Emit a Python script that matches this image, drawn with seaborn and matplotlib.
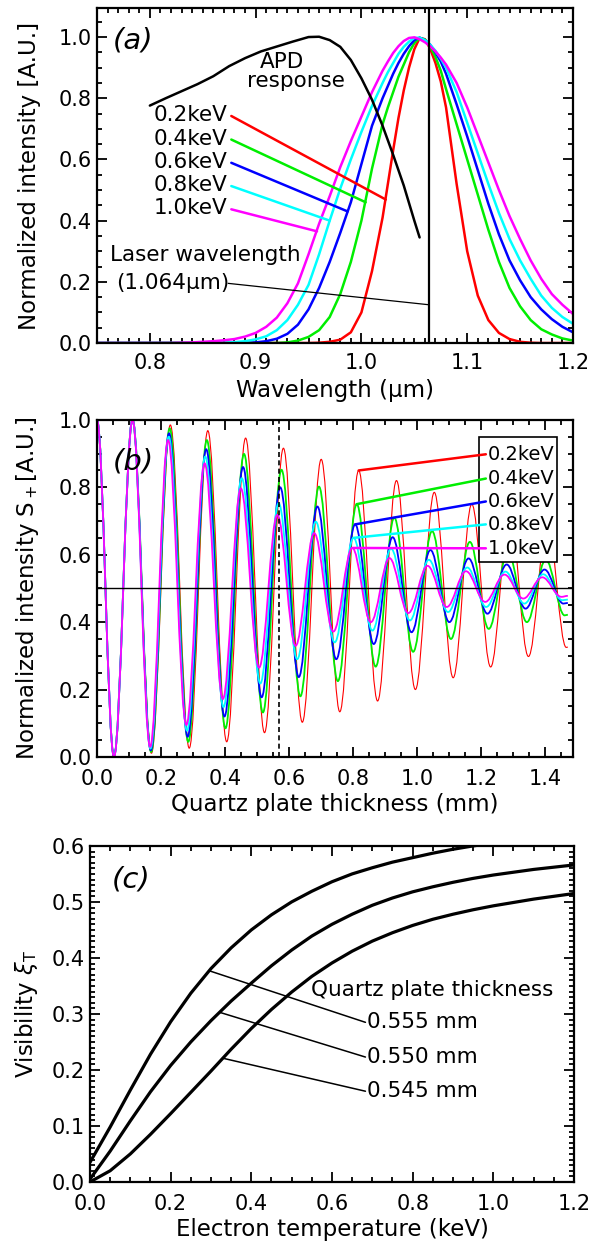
import matplotlib
matplotlib.use("Agg")
import matplotlib.pyplot as plt
import pandas as pd
import seaborn as sns
from matplotlib.path import Path
from matplotlib.patches import PathPatch, Rectangle
from matplotlib.ticker import MultipleLocator

# ---------------- (a) scattered spectra + APD response ----------------
energies = ["0.2keV", "0.4keV", "0.6keV", "0.8keV", "1.0keV"]
colors = ["#ff0000", "#00ee00", "#0000ff", "#00ffff", "#ff00ff"]

wl = [0.75, 0.76, 0.77, 0.78, 0.79, 0.80, 0.81, 0.82, 0.83, 0.84,
      0.85, 0.86, 0.87, 0.88, 0.89, 0.90, 0.91, 0.92, 0.93, 0.94,
      0.95, 0.96, 0.97, 0.98, 0.99, 1.00, 1.01, 1.02, 1.025, 1.03,
      1.035, 1.04, 1.045, 1.05, 1.055, 1.06, 1.065, 1.07, 1.075, 1.08,
      1.09, 1.10, 1.11, 1.12, 1.13, 1.14, 1.15, 1.16, 1.17, 1.18, 1.19, 1.20]

spec_02 = [0, 0, 0, 0, 0, 0, 0, 0, 0, 0,
           0, 0, 0, 0, 0, 0, 0, 0, 0, 0,
           0.0, 0.001, 0.004, 0.011, 0.035, 0.10, 0.235, 0.41, 0.52, 0.63,
           0.735, 0.825, 0.90, 0.96, 0.997, 0.993, 0.962, 0.915, 0.855, 0.77,
           0.52, 0.30, 0.155, 0.075, 0.033, 0.013, 0.004, 0.001, 0, 0, 0, 0]
spec_04 = [0, 0, 0, 0, 0, 0, 0, 0, 0, 0,
           0, 0, 0, 0, 0, 0, 0, 0, 0.002, 0.008,
           0.02, 0.042, 0.085, 0.16, 0.265, 0.40, 0.57, 0.715, 0.77, 0.82,
           0.87, 0.91, 0.95, 0.98, 0.997, 0.992, 0.97, 0.935, 0.89, 0.83,
           0.715, 0.60, 0.485, 0.37, 0.265, 0.18, 0.12, 0.075, 0.045, 0.028, 0.015, 0.008]
spec_06 = [0, 0, 0, 0, 0, 0, 0, 0, 0, 0,
           0, 0, 0, 0, 0, 0.002, 0.006, 0.014, 0.03, 0.06,
           0.11, 0.18, 0.265, 0.36, 0.46, 0.585, 0.71, 0.80, 0.84, 0.88,
           0.915, 0.945, 0.97, 0.99, 0.998, 0.99, 0.975, 0.95, 0.92, 0.88,
           0.78, 0.675, 0.565, 0.455, 0.355, 0.27, 0.205, 0.15, 0.11, 0.078, 0.053, 0.035]
spec_08 = [0, 0, 0, 0, 0, 0, 0, 0, 0, 0,
           0, 0, 0.001, 0.003, 0.006, 0.012, 0.022, 0.042, 0.075, 0.125,
           0.19, 0.29, 0.40, 0.505, 0.60, 0.69, 0.775, 0.85, 0.885, 0.915,
           0.945, 0.968, 0.985, 0.997, 0.998, 0.99, 0.975, 0.955, 0.93, 0.90,
           0.82, 0.72, 0.62, 0.52, 0.425, 0.34, 0.27, 0.21, 0.155, 0.115, 0.085, 0.063]
spec_10 = [0, 0, 0, 0, 0, 0, 0, 0, 0.001, 0.002,
           0.004, 0.006, 0.009, 0.013, 0.021, 0.033, 0.053, 0.083, 0.13, 0.195,
           0.29, 0.39, 0.48, 0.575, 0.66, 0.74, 0.82, 0.89, 0.92, 0.948,
           0.97, 0.987, 0.997, 0.999, 0.993, 0.983, 0.97, 0.953, 0.933, 0.91,
           0.85, 0.77, 0.68, 0.59, 0.50, 0.415, 0.34, 0.27, 0.21, 0.16, 0.125, 0.095]

apd_wl = [0.800, 0.815, 0.830, 0.845, 0.860, 0.875, 0.890, 0.905, 0.920, 0.935, 0.950,
          0.960, 0.970, 0.980, 0.990, 1.000, 1.010, 1.020, 1.030, 1.040, 1.050, 1.055]
apd_resp = [0.776, 0.800, 0.823, 0.846, 0.872, 0.905, 0.931, 0.953, 0.969, 0.985, 1.000,
            1.001, 0.990, 0.968, 0.925, 0.865, 0.795, 0.710, 0.615, 0.515, 0.400, 0.345]

laser_wl = 1.064
# where each label leader line touches its curve in (a)
lead_a_x = [1.023, 1.004, 0.987, 0.970, 0.958]
lead_a_y = [0.469, 0.460, 0.430, 0.400, 0.365]
label_a_y = [0.745, 0.668, 0.592, 0.516, 0.440]

peak_x = [
    [0.111, 0.229, 0.346, 0.464, 0.582, 0.700, 0.817, 0.935, 1.053, 1.170, 1.288, 1.406],
    [0.111, 0.227, 0.343, 0.459, 0.576, 0.693, 0.811, 0.928, 1.046, 1.164, 1.283, 1.401],
    [0.111, 0.225, 0.341, 0.456, 0.572, 0.688, 0.806, 0.923, 1.041, 1.160, 1.279, 1.397],
    [0.111, 0.224, 0.338, 0.452, 0.567, 0.683, 0.801, 0.918, 1.036, 1.156, 1.275, 1.393],
    [0.111, 0.222, 0.336, 0.449, 0.563, 0.678, 0.797, 0.913, 1.032, 1.152, 1.272, 1.390],
]
peak_y = [
    [0.998, 0.985, 0.968, 0.946, 0.916, 0.883, 0.850, 0.820, 0.785, 0.750, 0.720, 0.690],
    [1.000, 0.975, 0.940, 0.899, 0.852, 0.802, 0.750, 0.710, 0.670, 0.638, 0.610, 0.585],
    [1.000, 0.960, 0.913, 0.860, 0.800, 0.743, 0.690, 0.652, 0.614, 0.589, 0.571, 0.556],
    [1.000, 0.950, 0.891, 0.827, 0.753, 0.698, 0.650, 0.618, 0.585, 0.562, 0.550, 0.542],
    [1.000, 0.940, 0.871, 0.797, 0.718, 0.664, 0.620, 0.590, 0.567, 0.551, 0.541, 0.533],
]
trough_x = [
    [0.053, 0.170, 0.288, 0.405, 0.523, 0.641, 0.758, 0.876, 0.994, 1.112, 1.229, 1.347, 1.465],
    [0.053, 0.169, 0.285, 0.401, 0.518, 0.635, 0.752, 0.870, 0.987, 1.105, 1.223, 1.342, 1.460],
    [0.053, 0.168, 0.283, 0.398, 0.514, 0.630, 0.747, 0.864, 0.982, 1.100, 1.219, 1.338, 1.456],
    [0.053, 0.167, 0.281, 0.395, 0.510, 0.625, 0.742, 0.860, 0.977, 1.096, 1.215, 1.334, 1.453],
    [0.053, 0.166, 0.279, 0.393, 0.506, 0.620, 0.738, 0.855, 0.972, 1.092, 1.212, 1.331, 1.450],
]
trough_y = [
    [0.005, 0.011, 0.026, 0.045, 0.072, 0.103, 0.134, 0.166, 0.200, 0.235, 0.267, 0.298, 0.325],
    [0.002, 0.015, 0.045, 0.085, 0.132, 0.180, 0.225, 0.268, 0.312, 0.350, 0.380, 0.400, 0.420],
    [0.002, 0.020, 0.060, 0.120, 0.177, 0.237, 0.290, 0.335, 0.370, 0.400, 0.425, 0.440, 0.455],
    [0.002, 0.025, 0.078, 0.148, 0.218, 0.290, 0.340, 0.375, 0.405, 0.430, 0.445, 0.455, 0.465],
    [0.000, 0.030, 0.095, 0.172, 0.265, 0.330, 0.372, 0.400, 0.427, 0.445, 0.460, 0.470, 0.475],
]
end_y = [0.326, 0.422, 0.457, 0.467, 0.478]
thick_start, thick_end = 0.0, 1.47
marked_thickness = 0.567
legend_y = [0.898, 0.826, 0.758, 0.690, 0.619]

# ---------------- (c) visibility vs electron temperature ----------------
te_555 = [0.0, 0.05, 0.1, 0.15, 0.2, 0.25, 0.3, 0.35, 0.4, 0.45, 0.5, 0.55, 0.6,
          0.65, 0.7, 0.75, 0.8, 0.85, 0.9, 0.95, 1.0]
vis_555 = [0.035, 0.098, 0.164, 0.228, 0.286, 0.337, 0.381, 0.418, 0.450, 0.477, 0.500,
           0.519, 0.536, 0.550, 0.561, 0.571, 0.579, 0.587, 0.594, 0.600, 0.605]
te = [0.0, 0.05, 0.1, 0.15, 0.2, 0.25, 0.3, 0.35, 0.4, 0.45, 0.5, 0.55, 0.6,
      0.65, 0.7, 0.75, 0.8, 0.85, 0.9, 0.95, 1.0, 1.05, 1.1, 1.15, 1.2]
vis_550 = [0.005, 0.055, 0.109, 0.161, 0.208, 0.250, 0.288, 0.323, 0.355, 0.386, 0.414,
           0.439, 0.460, 0.478, 0.494, 0.507, 0.518, 0.527, 0.535, 0.542, 0.548,
           0.553, 0.558, 0.562, 0.566]
vis_545 = [0.000, 0.020, 0.050, 0.085, 0.122, 0.160, 0.198, 0.237, 0.274, 0.308, 0.339,
           0.367, 0.391, 0.412, 0.430, 0.445, 0.458, 0.469, 0.478, 0.486, 0.493,
           0.499, 0.505, 0.510, 0.515]
thick_labels = ["0.555 mm", "0.550 mm", "0.545 mm"]
lead_c_x = [0.296, 0.321, 0.329]
lead_c_y = [0.377, 0.303, 0.221]
lead_c_y_end = [0.285, 0.223, 0.162]

# ---------------- style ----------------
sns.set_theme(style="ticks")
plt.rcParams["font.family"] = ["DejaVu Sans"]
plt.rcParams["mathtext.fontset"] = "dejavusans"
plt.rcParams["axes.linewidth"] = 1.6
plt.rcParams["axes.edgecolor"] = "black"
plt.rcParams["text.color"] = "black"
plt.rcParams["axes.labelcolor"] = "black"

TICK = 15
LAB = 16.5
ANN = 15.5


def style_axes(ax, xmaj, xmin, ymaj, ymin, xpad=8.8):
    ax.xaxis.set_major_locator(MultipleLocator(xmaj))
    ax.xaxis.set_minor_locator(MultipleLocator(xmin))
    ax.yaxis.set_major_locator(MultipleLocator(ymaj))
    ax.yaxis.set_minor_locator(MultipleLocator(ymin))
    ax.tick_params(which="both", direction="in", top=True, right=True,
                   colors="black", width=1.3, labelsize=TICK)
    ax.tick_params(axis="x", which="both", pad=xpad)
    ax.tick_params(axis="y", which="both", pad=3.5)
    ax.tick_params(which="major", length=7)
    ax.tick_params(which="minor", length=3.5)
    for s in ax.spines.values():
        s.set_color("black")


def wave_path(xs, ys):
    # smooth half-cycle strokes between the read-off extrema
    verts = [(xs[0], ys[0])]
    codes = [Path.MOVETO]
    for x0, y0, x1, y1 in zip(xs[:-1], ys[:-1], xs[1:], ys[1:]):
        d = (x1 - x0) * 0.3642
        verts += [(x0 + d, y0), (x1 - d, y1), (x1, y1)]
        codes += [Path.CURVE4] * 3
    return Path(verts, codes)


fig = plt.figure(figsize=(6.08, 12.46), dpi=100)
ax_a = fig.add_axes([0.1595, 0.7247, 0.7829, 0.2689])
ax_b = fig.add_axes([0.1595, 0.3925, 0.7829, 0.2705])
ax_c = fig.add_axes([0.148, 0.0514, 0.796, 0.2697])

# ---- (a) ----
spectra = [spec_02, spec_04, spec_06, spec_08, spec_10]
df_a = pd.DataFrame({
    "wl": wl * len(spectra),
    "I": [v for s in spectra for v in s],
    "Te": [e for e in energies for _ in wl],
})
sns.lineplot(data=df_a, x="wl", y="I", hue="Te", hue_order=energies,
             palette=colors, estimator=None, legend=False, lw=1.8, ax=ax_a)
sns.lineplot(x=apd_wl, y=apd_resp, color="black", lw=1.8, estimator=None, ax=ax_a)
ax_a.axvline(laser_wl, color="black", lw=1.6)
ax_a.set_xlim(0.75, 1.2)
ax_a.set_ylim(0, 1.095)
style_axes(ax_a, 0.1, 0.01, 0.2, 0.05, xpad=7)
ax_a.set_xlabel("Wavelength (\u03bcm)", fontsize=LAB)
ax_a.set_ylabel("Normalized intensity [A.U.]", fontsize=LAB)
ax_a.xaxis.set_label_coords(0.5, -0.108)
ax_a.yaxis.set_label_coords(-0.118, 0.5)
ax_a.text(0.784, 0.99, "(a)", fontsize=21, style="italic", ha="center", va="center")
ax_a.text(0.925, 0.92, "APD", fontsize=ANN, ha="center", va="center")
ax_a.text(0.938, 0.855, "response", fontsize=ANN, ha="center", va="center")
for e, c, ly, ex, ey in zip(energies, colors, label_a_y, lead_a_x, lead_a_y):
    ax_a.text(0.873, ly, e, fontsize=ANN, ha="right", va="center")
    ax_a.plot([0.877, ex], [ly - 0.003, ey], color=c, lw=1.8)
ax_a.text(0.852, 0.288, "Laser wavelength", fontsize=ANN, ha="center", va="center")
ax_a.text(0.822, 0.195, "(1.064\u03bcm)", fontsize=ANN, ha="center", va="center")
ax_a.plot([0.874, laser_wl], [0.195, 0.125], color="black", lw=0.9)

# ---- (b) ----
widths = [0.8, 1.3, 1.3, 1.3, 1.3]
for i, (c, w) in enumerate(zip(colors, widths)):
    xs = [thick_start]
    ys = [1.0]
    for k in range(len(trough_x[i])):
        xs.append(trough_x[i][k])
        ys.append(trough_y[i][k])
        if k < len(peak_x[i]):
            xs.append(peak_x[i][k])
            ys.append(peak_y[i][k])
    xs.append(thick_end)
    ys.append(end_y[i])
    ax_b.add_patch(PathPatch(wave_path(xs, ys), fill=False, edgecolor=c, lw=w, zorder=2))
ax_b.axhline(0.5, color="black", lw=1.0, zorder=3)
ax_b.axvline(marked_thickness, color="black", lw=1.2, ls=(0, (3, 2)), zorder=3)
ax_b.add_patch(Rectangle((1.193, 0.578), 0.242, 0.371, facecolor="white",
                         edgecolor="black", lw=1.2, zorder=4))
for i, (e, c, ly) in enumerate(zip(energies, colors, legend_y)):
    ax_b.plot([peak_x[i][6], 1.214], [peak_y[i][6], ly], color=c, lw=1.8, zorder=5)
    ax_b.text(1.219, ly, e, fontsize=14, ha="left", va="center", zorder=6)
ax_b.set_xlim(0, 1.486)
ax_b.set_ylim(0, 1.0)
style_axes(ax_b, 0.2, 0.05, 0.2, 0.05)
ax_b.set_xlabel("Quartz plate thickness (mm)", fontsize=LAB)
ax_b.set_ylabel("Normalized intensity S$_+$[A.U.]", fontsize=LAB)
ax_b.xaxis.set_label_coords(0.5, -0.108)
ax_b.yaxis.set_label_coords(-0.118, 0.5)
ax_b.text(0.113, 0.876, "(b)", fontsize=21, style="italic", ha="center", va="center")

# ---- (c) ----
for x, y in [(te_555, vis_555), (te, vis_550), (te, vis_545)]:
    sns.lineplot(x=x, y=y, color="black", lw=2.3, estimator=None, ax=ax_c)
for lab, x0, y0, y1 in zip(thick_labels, lead_c_x, lead_c_y, lead_c_y_end):
    ax_c.plot([x0, 0.683], [y0, y1], color="black", lw=1.1)
    ax_c.text(0.686, y1, lab, fontsize=ANN, ha="left", va="center")
ax_c.text(0.548, 0.342, "Quartz plate thickness", fontsize=ANN, ha="left", va="center")
ax_c.text(0.102, 0.54, "(c)", fontsize=21, style="italic", ha="center", va="center")
ax_c.set_xlim(0, 1.2)
ax_c.set_ylim(0, 0.6)
style_axes(ax_c, 0.2, 0.05, 0.1, 0.01)
ax_c.set_xlabel("Electron temperature (keV)", fontsize=LAB)
ax_c.set_ylabel("Visibility $\\xi_{\\mathrm{T}}$", fontsize=LAB)
ax_c.xaxis.set_label_coords(0.5, -0.108)
ax_c.yaxis.set_label_coords(-0.104, 0.5)

fig.savefig("out.png", dpi=100, facecolor="white")
